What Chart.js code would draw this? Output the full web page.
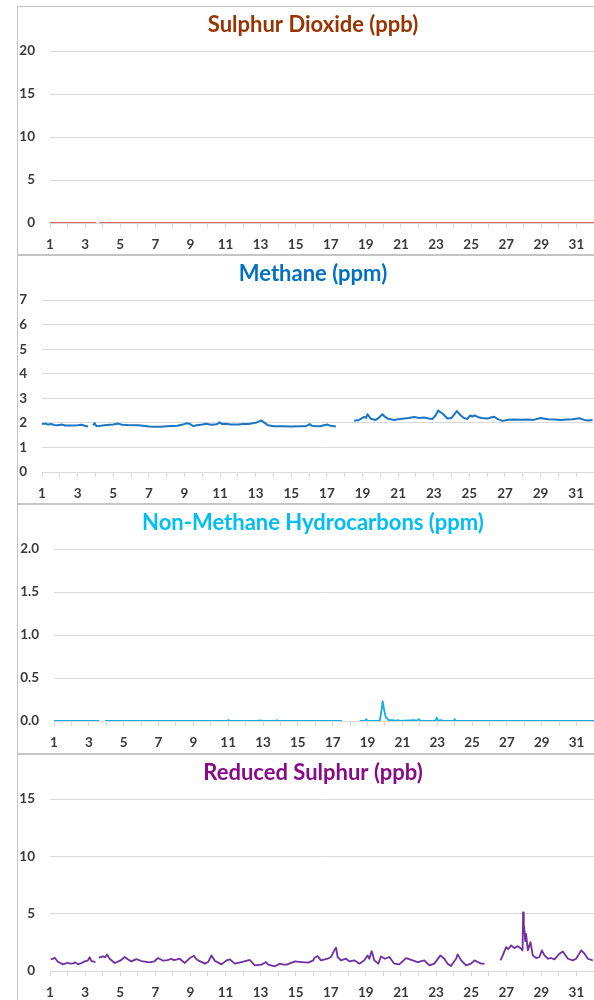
<!DOCTYPE html>
<html>
<head>
<meta charset="utf-8">
<script src="https://cdn.jsdelivr.net/npm/chart.js@4/dist/chart.umd.min.js"></script>
<style>
html,body{margin:0;padding:0;background:#fff;overflow:hidden;width:594px;height:1000px;}
.panel{position:absolute;left:17px;width:592px;box-sizing:border-box;border:1px solid #c4c4c4;background:#fff;}
.panel canvas{display:block;}
</style>
</head>
<body>
<div class="panel" style="top:6px;height:249px;"><canvas id="c1"></canvas></div>
<div class="panel" style="top:255px;height:249px;"><canvas id="c2"></canvas></div>
<div class="panel" style="top:504px;height:250px;"><canvas id="c3"></canvas></div>
<div class="panel" style="top:754px;height:250px;"><canvas id="c4"></canvas></div>
<script>
// ---- Data (day of month, value) ----
const so2Days   = [1, 2, 3, 3.62, 3.72, 3.81, 8, 16, 24, 32];
const so2Values = [0, 0, 0, 0, null, 0, 0, 0, 0, 0];

const ch4Days = [1.0,1.2,1.35,1.5,1.7,1.9,2.1,2.3,2.65,3.0,3.21,3.4,3.58,3.7,
  3.87,3.96,4.05,4.3,4.52,4.8,5.0,5.27,5.5,5.8,6.39,6.8,7.0,7.33,7.7,8.0,8.27,8.6,8.9,9.11,9.3,9.48,9.7,10.0,10.23,10.5,10.8,10.98,11.1,11.3,11.6,12.01,12.3,12.6,13.0,13.32,13.5,13.7,14.0,14.5,15.0,15.5,15.8,16.04,16.15,16.32,16.6,17.03,17.2,17.5,18.0,
  18.53,18.8,19.0,19.09,19.2,19.28,19.46,19.74,19.9,20.12,20.25,20.4,20.77,21.0,21.34,21.6,21.9,22.2,22.46,22.7,22.93,23.1,23.25,23.35,23.49,23.77,24.0,24.3,24.52,24.7,24.89,25.05,25.17,25.3,25.46,25.7,26.02,26.2,26.39,26.6,26.86,27.2,27.52,27.9,28.27,28.6,29.01,29.39,29.8,30.14,30.5,30.8,31.17,31.45,31.7,31.92];
const ch4Values = [1.95,1.97,1.93,1.95,1.91,1.90,1.93,1.89,1.89,1.90,1.92,1.88,1.85,null,
  1.90,1.99,1.87,1.88,1.90,1.92,1.93,1.97,1.92,1.91,1.90,1.87,1.85,1.84,1.84,1.86,1.87,1.88,1.93,1.98,1.96,1.87,1.90,1.93,1.96,1.92,1.94,2.02,1.95,1.96,1.93,1.93,1.95,1.95,2.00,2.10,2.00,1.90,1.86,1.86,1.85,1.86,1.86,1.95,1.88,1.87,1.86,1.93,1.88,1.85,null,
  2.09,2.12,2.20,2.24,2.20,2.35,2.17,2.12,2.20,2.35,2.25,2.18,2.12,2.15,2.18,2.20,2.24,2.20,2.22,2.18,2.16,2.30,2.50,2.45,2.38,2.18,2.20,2.48,2.30,2.20,2.16,2.30,2.26,2.30,2.24,2.20,2.18,2.22,2.25,2.15,2.08,2.13,2.14,2.13,2.14,2.12,2.20,2.15,2.14,2.12,2.14,2.15,2.19,2.12,2.10,2.12];

const nmhcDays = [1,3.6,3.75,3.93,10.9,11.02,11.1,12.8,12.84,12.9,13.75,13.8,13.85,17.53,18.0,
  18.55,18.85,18.93,19.0,19.7,19.8,19.87,19.95,20.05,20.12,20.2,20.47,20.55,20.76,20.85,21.7,21.8,21.95,22.05,22.9,22.97,23.05,23.24,23.3,23.95,24.0,24.07,32];
const nmhcValues = [0,0,null,0,0,0.01,0,0,0.01,0,0,0.01,0,0,null,
  0,0.005,0.02,0.005,0,0.12,0.23,0.13,0.04,0.035,0.01,0.01,0,0.01,0,0.01,0,0.02,0,0,0.04,0.005,0.01,0,0,0.02,0,0];

const rsDays = [1.04,1.15,1.27,1.35,1.46,1.6,1.74,1.9,2.03,2.15,2.31,2.45,2.6,2.8,2.98,3.15,3.26,3.36,3.5,3.59,3.68,
  3.78,4.02,4.15,4.25,4.4,4.69,5.0,5.26,5.45,5.64,5.92,6.21,6.5,6.69,6.95,7.16,7.45,7.7,7.92,8.05,8.2,8.39,8.68,8.97,9.21,9.3,9.44,9.82,10.01,10.2,10.39,10.77,11.06,11.25,11.53,11.91,12.39,12.67,13.05,13.3,13.44,13.82,14.1,14.3,14.48,14.96,15.34,15.72,16.0,16.06,16.25,16.44,16.82,17.01,17.2,17.3,17.39,17.58,17.87,18.06,18.34,18.63,18.91,19.1,19.2,19.33,19.48,19.71,19.86,20.09,20.34,20.62,20.91,21.29,21.67,21.95,22.33,22.62,22.9,23.25,23.47,23.66,23.85,24.14,24.23,24.43,24.71,24.99,25.19,25.38,25.57,25.76,26.2,
  26.67,26.8,26.99,27.1,27.28,27.47,27.66,27.85,27.93,27.96,28.0,28.04,28.08,28.13,28.23,28.38,28.51,28.7,28.89,29.03,29.18,29.37,29.56,29.75,30.03,30.22,30.51,30.79,30.98,31.27,31.46,31.65,31.93];
const rsValues = [1.01,1.05,1.16,1.0,0.79,0.7,0.58,0.66,0.72,0.65,0.67,0.75,0.58,0.7,0.84,0.9,1.2,0.87,0.82,0.78,null,
  1.16,1.27,1.2,1.45,1.07,0.7,0.9,1.22,1.0,0.84,1.04,0.87,0.8,0.76,0.85,1.13,0.9,0.95,1.07,0.95,0.99,1.07,0.7,1.13,1.33,1.1,0.93,0.64,0.78,1.36,0.9,0.58,0.93,1.01,0.64,0.78,0.96,0.49,0.55,0.78,0.55,0.41,0.64,0.55,0.55,0.84,0.78,0.73,0.93,1.13,1.3,0.93,1.07,1.22,1.8,2.03,1.22,0.93,1.07,0.84,0.93,0.64,0.93,1.36,1.07,1.74,0.93,0.64,1.27,1.07,1.22,0.64,0.58,1.13,0.93,0.78,0.93,0.49,0.64,1.36,1.07,0.64,0.44,1.07,1.45,0.93,0.49,0.64,0.93,0.78,0.64,0.64,null,
  0.93,1.36,2.08,1.9,2.23,2.0,2.17,1.94,1.8,5.12,4.0,3.53,2.6,3.24,1.8,2.52,1.36,1.13,1.22,1.8,1.36,1.07,1.13,1.01,1.51,1.71,1.07,0.93,1.07,1.8,1.51,1.07,0.93];

// ---- Chart building ----
Chart.defaults.font.family = 'Lato, "Open Sans", sans-serif';
Chart.defaults.animation = false;

const LAST_DAY = 32;          // day value that sits at the right edge of the picture
const VISIBLE_RIGHT = 594 - 18; // canvas-relative x of the picture's right edge

function makeChart(id, title, titleColor, lineColor, lineW, days, values, yMax, yStep, yWidth, xHeight, decimals){
  const pts = days.map((d,i)=>({x:d, y:values[i]}));
  const chart = new Chart(document.getElementById(id), {
    type: 'line',
    data: { datasets: [{ data: pts, borderColor: lineColor, borderWidth: lineW, pointRadius: 0, tension: 0, spanGaps: false, fill: false, borderJoinStyle: 'round' }] },
    options: {
      responsive: true, maintainAspectRatio: false,
      layout: { padding: 0 },
      plugins: {
        legend: { display: false }, tooltip: { enabled: false },
        title: { display: true, text: title, color: titleColor,
          font: { size: 22, weight: 'bold' }, padding: { top: 5, bottom: 12.6 } }
      },
      scales: {
        x: { type: 'linear', min: 1, max: 32.8,
          grid: { drawOnChartArea: false, drawTicks: true, tickLength: 5, color: '#d9d9d9' },
          border: { display: true, color: '#d9d9d9', width: 1 },
          ticks: { stepSize: 1, autoSkip: false, maxRotation: 0, padding: 9, color: '#3a3a3a',
            font: { size: 13.5, weight: 'bold' },
            callback: v => (Number.isInteger(v) && v % 2 === 1 && v <= 31) ? String(v) : '' },
          afterFit: s => { s.height = xHeight; }
        },
        y: { min: 0, max: yMax,
          grid: { drawTicks: false, color: '#d9d9d9' },
          border: { display: false },
          ticks: { stepSize: yStep, padding: 15, color: '#3a3a3a', font: { size: 13.5, weight: 'bold' },
            callback: v => v.toFixed(decimals) },
          afterFit: s => { s.width = yWidth; }
        }
      }
    }
  });
  // make the last day land on the picture's right edge (chart is cropped there)
  for (let k = 0; k < 2; k++) {
    const ca = chart.chartArea;
    chart.options.scales.x.max = 1 + (LAST_DAY - 1) * (ca.right - ca.left) / (VISIBLE_RIGHT - ca.left);
    chart.update();
  }
}

makeChart('c1', 'Sulphur Dioxide (ppb)', '#993300', '#DE5E5E', 2, so2Days, so2Values, 20, 5, 32, 31, 0);
makeChart('c2', 'Methane (ppm)', '#0070C0', '#1A75C2', 2, ch4Days, ch4Values, 7, 1, 24, 31, 0);
makeChart('c3', 'Non-Methane Hydrocarbons (ppm)', '#00BDF2', '#16ACE4', 1.8, nmhcDays, nmhcValues, 2, 0.5, 36, 32, 1);
makeChart('c4', 'Reduced Sulphur (ppb)', '#870A87', '#7030A0', 1.8, rsDays, rsValues, 15, 5, 32, 32, 0);
</script>
</body>
</html>
